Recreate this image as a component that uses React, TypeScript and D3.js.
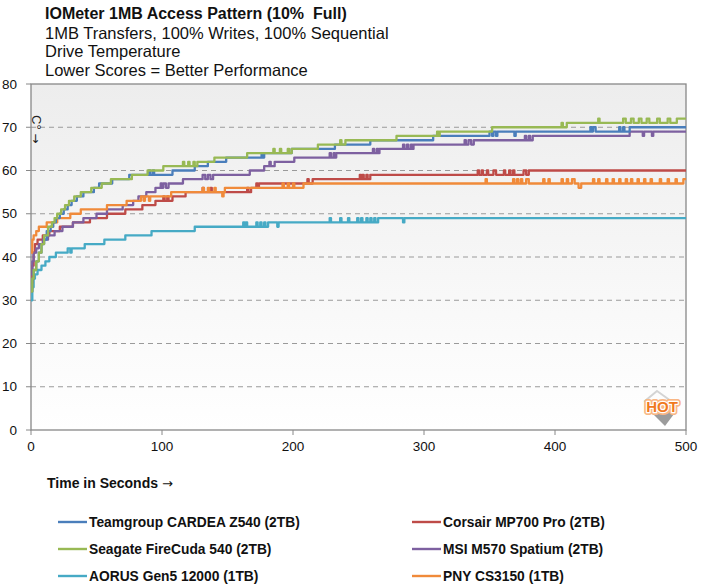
import React, { useRef, useEffect } from 'react';
import * as d3 from 'd3';

const titleText = 'IOMeter 1MB Access Pattern (10%  Full)';
const subtitleLines = [
  '1MB Transfers, 100% Writes, 100% Sequential',
  'Drive Temperature',
  'Lower Scores = Better Performance',
];
const xTicks = [0, 100, 200, 300, 400, 500];
const yTicks = [0, 10, 20, 30, 40, 50, 60, 70, 80];
const gridValues = [10, 20, 30, 40, 50, 60, 70];

// [seconds, °C] change points
const teamgroup: [number, number][] = [
  [0, 32], [1, 35], [2, 37], [4, 39], [6, 41], [8, 43], [10, 44], [12, 46], [15, 47], [17, 48],
  [19, 49], [22, 50], [25, 51], [28, 52], [31, 53], [35, 54], [40, 55], [48, 56], [52, 57], [62, 58],
  [75, 59], [90, 60], [91, 59], [93, 60], [94, 59], [108, 60], [125, 61], [135, 62], [149, 63],
  [176, 64], [177, 63], [178, 64], [199, 65], [232, 66], [259, 67], [307, 68], [350, 69], [352, 68],
  [353, 69], [355, 68], [356, 69], [369, 68], [370, 69], [427, 70], [428, 69], [429, 70], [431, 69],
  [449, 70], [450, 69], [452, 70], [453, 69], [457, 70], [500, 70],
];
const seagate: [number, number][] = [
  [0, 32], [1, 35], [2, 37], [4, 39], [6, 41], [8, 43], [10, 45], [13, 47], [16, 48], [18, 49],
  [20, 50], [23, 51], [26, 52], [29, 53], [33, 54], [38, 55], [46, 56], [54, 57], [61, 58], [77, 59],
  [89, 60], [101, 61], [116, 62], [117, 61], [120, 62], [121, 61], [124, 62], [125, 61], [127, 62],
  [140, 63], [165, 64], [185, 65], [186, 64], [190, 65], [191, 64], [196, 65], [197, 64], [199, 65],
  [219, 66], [236, 67], [237, 66], [240, 67], [279, 68], [310, 69], [311, 68], [312, 69], [352, 70],
  [405, 71], [406, 70], [409, 71], [433, 72], [434, 71], [452, 72], [454, 71], [458, 72], [460, 71],
  [464, 72], [466, 71], [470, 72], [472, 71], [478, 72], [480, 71], [486, 72], [488, 71], [493, 72],
  [500, 72],
];
const aorus: [number, number][] = [
  [0, 30], [1, 33], [2, 35], [3, 36], [5, 37], [8, 38], [11, 39], [14, 40], [19, 41], [28, 42],
  [30, 41], [31, 42], [41, 43], [56, 44], [72, 45], [92, 46], [125, 47], [162, 48], [163, 47],
  [164, 48], [165, 47], [172, 48], [173, 47], [175, 48], [176, 47], [178, 48], [179, 47], [181, 48],
  [188, 47], [189, 48], [228, 49], [229, 48], [236, 49], [237, 48], [242, 49], [243, 48], [249, 49],
  [250, 48], [252, 49], [253, 48], [256, 49], [257, 48], [259, 49], [260, 48], [262, 49], [263, 48],
  [265, 49], [284, 48], [285, 49], [500, 49],
];
const corsair: [number, number][] = [
  [0, 34], [1, 38], [2, 41], [3, 43], [5, 44], [9, 45], [14, 46], [22, 47], [32, 48], [45, 49],
  [58, 50], [72, 51], [85, 52], [95, 53], [101, 54], [102, 53], [104, 54], [105, 53], [108, 54],
  [118, 55], [131, 56], [132, 55], [137, 56], [138, 55], [165, 56], [166, 55], [168, 56], [172, 57],
  [173, 56], [174, 57], [211, 58], [212, 57], [215, 58], [251, 59], [252, 58], [253, 59], [254, 58],
  [256, 59], [257, 58], [259, 59], [341, 60], [342, 59], [344, 60], [345, 59], [348, 60], [349, 59],
  [353, 60], [355, 59], [361, 60], [362, 59], [365, 60], [366, 59], [368, 60], [369, 59], [376, 60],
  [378, 59], [380, 60], [500, 60],
];
const msi: [number, number][] = [
  [0, 36], [1, 39], [2, 41], [4, 42], [6, 43], [9, 44], [13, 45], [18, 46], [24, 47], [32, 48],
  [40, 49], [50, 50], [58, 51], [70, 52], [78, 53], [82, 54], [88, 55], [95, 56], [99, 57], [100, 56],
  [101, 57], [103, 56], [105, 57], [116, 58], [131, 59], [133, 58], [135, 59], [137, 58], [139, 59],
  [167, 60], [178, 61], [182, 62], [183, 61], [186, 62], [201, 63], [228, 64], [229, 63], [231, 64],
  [232, 63], [233, 64], [261, 65], [262, 64], [264, 65], [265, 64], [266, 65], [284, 66], [285, 65],
  [287, 66], [288, 65], [290, 66], [291, 65], [292, 66], [331, 67], [332, 66], [334, 67], [336, 66],
  [338, 67], [377, 68], [378, 67], [380, 68], [381, 67], [383, 68], [457, 69], [467, 68], [468, 69],
  [474, 68], [475, 69], [500, 69],
];
const pny: [number, number][] = [
  [0, 41], [1, 44], [2, 45], [4, 46], [6, 47], [12, 48], [20, 49], [30, 50], [38, 51], [58, 52],
  [73, 53], [84, 54], [86, 53], [87, 54], [90, 53], [91, 54], [107, 55], [131, 56], [132, 55],
  [135, 56], [136, 55], [140, 56], [141, 55], [146, 54], [147, 55], [148, 56], [192, 57], [193, 56],
  [196, 57], [197, 56], [200, 57], [201, 56], [208, 57], [347, 58], [348, 57], [368, 58], [369, 57],
  [371, 58], [372, 57], [374, 58], [375, 57], [378, 58], [380, 57], [391, 58], [392, 57], [395, 58],
  [396, 57], [405, 58], [406, 57], [409, 58], [410, 57], [413, 58], [415, 57], [418, 56], [420, 57],
  [429, 58], [430, 57], [433, 58], [434, 57], [439, 58], [440, 57], [444, 58], [445, 57], [449, 58],
  [450, 57], [454, 58], [455, 57], [458, 58], [459, 57], [463, 58], [464, 57], [468, 58], [469, 57],
  [473, 58], [474, 57], [480, 58], [481, 57], [486, 58], [487, 57], [492, 58], [493, 57], [498, 58],
  [500, 58],
];

const seriesNames = [
  'Teamgroup CARDEA Z540 (2TB)',
  'Corsair MP700 Pro (2TB)',
  'Seagate FireCuda 540 (2TB)',
  'MSI M570 Spatium (2TB)',
  'AORUS Gen5 12000 (1TB)',
  'PNY CS3150 (1TB)',
];
const seriesColors = ['#4a7ebb', '#be4b48', '#98b954', '#7d60a0', '#46aac5', '#f08a3a'];
const seriesData = [teamgroup, corsair, seagate, msi, aorus, pny];
const drawOrder = [4, 1, 3, 5, 0, 2];

const FONT = '"Liberation Sans", Arial, sans-serif';

const App: React.FC = () => {
  const ref = useRef<SVGSVGElement>(null);

  useEffect(() => {
    const svg = d3.select(ref.current);
    svg.selectAll('*').remove();

    const left = 31, right = 686, top = 84, bottom = 430;
    const x = d3.scaleLinear().domain([0, 500]).range([left, right]);
    const y = d3.scaleLinear().domain([0, 80]).range([bottom, top]);

    const defs = svg.append('defs');
    const grad = defs.append('linearGradient')
      .attr('id', 'plotBg').attr('x1', 0).attr('y1', 0).attr('x2', 0).attr('y2', 1);
    grad.append('stop').attr('offset', '0%').attr('stop-color', '#ededed');
    grad.append('stop').attr('offset', '100%').attr('stop-color', '#ffffff');

    // titles
    svg.append('text')
      .attr('x', 45).attr('y', 19)
      .style('font', `bold 16px ${FONT}`)
      .style('white-space', 'pre')
      .attr('fill', '#111')
      .text(titleText);
    svg.selectAll('.sub')
      .data(subtitleLines)
      .enter().append('text')
      .attr('class', 'sub')
      .attr('x', 45)
      .attr('y', (d, i) => 38.5 + i * 18.8)
      .style('font', `16.5px ${FONT}`)
      .attr('fill', '#111')
      .text(d => d);

    // plot area
    svg.append('rect')
      .attr('x', left).attr('y', top)
      .attr('width', right - left).attr('height', bottom - top)
      .attr('fill', 'url(#plotBg)');

    svg.selectAll('.grid')
      .data(gridValues)
      .enter().append('line')
      .attr('class', 'grid')
      .attr('x1', left).attr('x2', right)
      .attr('y1', d => y(d)).attr('y2', d => y(d))
      .attr('stroke', '#9a9a9a')
      .attr('stroke-width', 1.1)
      .attr('stroke-dasharray', '5,4');

    svg.append('rect')
      .attr('x', left).attr('y', top)
      .attr('width', right - left).attr('height', bottom - top)
      .attr('fill', 'none')
      .attr('stroke', '#888')
      .attr('stroke-width', 1.3);

    // y axis
    const yAxis = svg.append('g');
    yAxis.selectAll('line')
      .data(yTicks)
      .enter().append('line')
      .attr('x1', left - 5).attr('x2', left)
      .attr('y1', d => y(d)).attr('y2', d => y(d))
      .attr('stroke', '#888');
    yAxis.selectAll('text')
      .data(yTicks)
      .enter().append('text')
      .attr('x', 17)
      .attr('y', d => y(d))
      .attr('dy', '0.35em')
      .attr('text-anchor', 'end')
      .style('font', `13.5px ${FONT}`)
      .attr('fill', '#111')
      .text(d => d);

    // x axis
    const xAxis = svg.append('g');
    xAxis.selectAll('line')
      .data(xTicks)
      .enter().append('line')
      .attr('x1', d => x(d)).attr('x2', d => x(d))
      .attr('y1', bottom).attr('y2', bottom + 5)
      .attr('stroke', '#888');
    xAxis.selectAll('text')
      .data(xTicks)
      .enter().append('text')
      .attr('x', d => x(d))
      .attr('y', 451)
      .attr('text-anchor', 'middle')
      .style('font', `13.5px ${FONT}`)
      .attr('fill', '#111')
      .text(d => d);

    const xTitle = svg.append('text')
      .attr('x', 47).attr('y', 487.5)
      .style('font', `bold 14px ${FONT}`)
      .attr('fill', '#111');
    xTitle.append('tspan').text('Time in Seconds ');
    xTitle.append('tspan')
      .style('font', '13px "DejaVu Sans", sans-serif')
      .text('\u2192');

    const yTitle = svg.append('text')
      .attr('transform', `translate(32,115) rotate(90)`)
      .style('font', `13px ${FONT}`)
      .attr('fill', '#222');
    yTitle.append('tspan').text('C\u00b0 ');
    yTitle.append('tspan')
      .style('font', '12px "DejaVu Sans", sans-serif')
      .text('\u2192');

    // HOT watermark
    const hot = svg.append('g');
    hot.append('polygon')
      .attr('points', '657,391 671,401 659,411 645,401')
      .attr('fill', 'none').attr('stroke', '#d4d4d4').attr('stroke-width', 2);
    hot.append('polygon')
      .attr('points', '651,412 677,410 665,426')
      .attr('fill', '#9c9c9c');
    hot.append('text')
      .attr('x', 662).attr('y', 412)
      .attr('text-anchor', 'middle')
      .style('font', `bold 15px ${FONT}`)
      .attr('fill', 'none').attr('stroke', '#f9b785').attr('stroke-width', 6)
      .attr('stroke-linejoin', 'round')
      .text('HOT');
    hot.append('text')
      .attr('x', 662).attr('y', 412)
      .attr('text-anchor', 'middle')
      .style('font', `bold 15px ${FONT}`)
      .attr('fill', '#f07a1e').attr('stroke', '#fff').attr('stroke-width', 2.5)
      .attr('stroke-linejoin', 'round')
      .style('paint-order', 'stroke')
      .text('HOT');

    // series
    const line = d3.line<[number, number]>()
      .x(d => x(d[0]))
      .y(d => y(d[1]))
      .curve(d3.curveStepAfter);

    svg.append('g')
      .selectAll('path')
      .data(drawOrder)
      .enter().append('path')
      .attr('d', i => line(seriesData[i]))
      .attr('fill', 'none')
      .attr('stroke', i => seriesColors[i])
      .attr('stroke-width', 2.3)
      .attr('stroke-linejoin', 'round');

    // legend
    const legend = svg.append('g');
    const item = legend.selectAll('g')
      .data(seriesNames)
      .enter().append('g')
      .attr('transform', (d, i) => `translate(${i % 2 === 0 ? 58 : 412},${522 + Math.floor(i / 2) * 27})`);
    item.append('line')
      .attr('x1', 0).attr('x2', 29)
      .attr('stroke', (d, i) => seriesColors[i])
      .attr('stroke-width', 2.4);
    item.append('text')
      .attr('transform', 'translate(31,0) scale(0.92,1)')
      .attr('dy', '0.36em')
      .style('font', `bold 15px ${FONT}`)
      .attr('fill', '#111')
      .text(d => d);
  }, []);

  return (
    <svg
      ref={ref}
      width={708}
      height={588}
      style={{ position: 'absolute', left: 0, top: 0, background: '#fff' }}
    />
  );
};

export default App;
